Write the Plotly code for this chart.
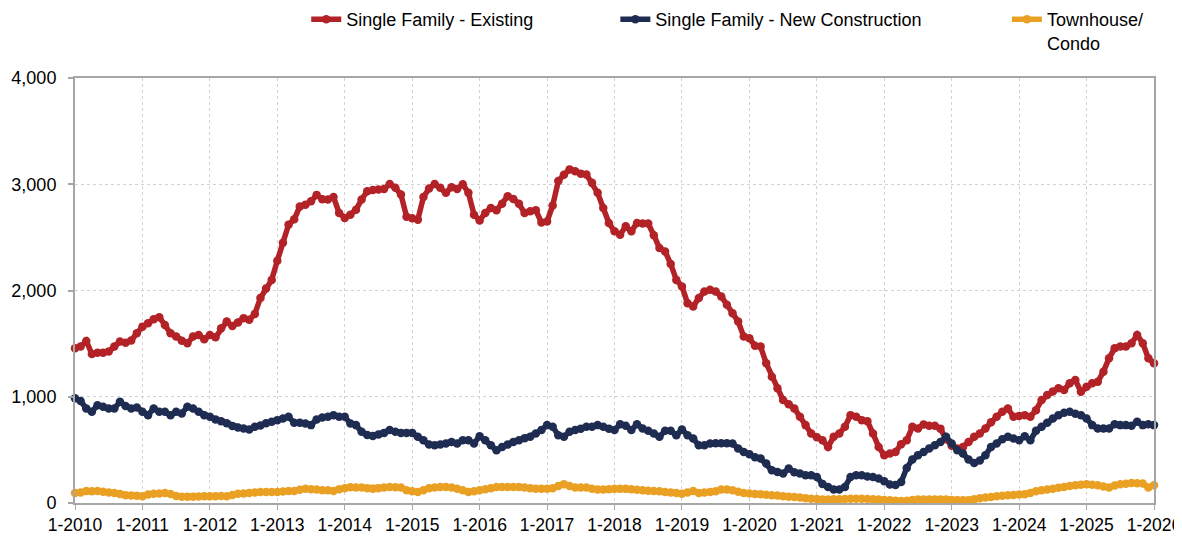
import plotly.graph_objects as go

# Monthly values, Jan 2010 .. Jan 2026
single_family_existing = [
    1457, 1472, 1525, 1403, 1415, 1415, 1425, 1472, 1519, 1509, 1530, 1598,
    1660, 1692, 1730, 1749, 1676, 1598, 1566, 1528, 1504, 1566, 1582, 1541,
    1582, 1560, 1645, 1708, 1667, 1700, 1740, 1724, 1780, 1930, 2020, 2100,
    2280, 2450, 2620, 2670, 2790, 2808, 2840, 2900, 2860, 2856, 2880, 2730,
    2683, 2714, 2760, 2856, 2934, 2945, 2950, 2956, 3003, 2966, 2903, 2695,
    2680, 2667, 2880, 2960, 3003, 2966, 2919, 2972, 2956, 3000, 2919, 2714,
    2660, 2730, 2777, 2755, 2816, 2887, 2862, 2816, 2730, 2745, 2755, 2641,
    2650, 2800, 3030, 3090, 3140, 3123, 3100, 3091, 3013, 2919, 2777, 2636,
    2557, 2525, 2604, 2557, 2636, 2630, 2630, 2520, 2400, 2368, 2250, 2100,
    2038, 1881, 1849, 1930, 1990, 2006, 1990, 1944, 1865, 1787, 1708, 1566,
    1550, 1480, 1472, 1315, 1189, 1079, 969, 930, 890, 811, 733, 654,
    620, 591, 528, 623, 654, 717, 827, 811, 780, 770, 654, 528,
    450, 466, 481, 553, 591, 717, 701, 740, 726, 726, 700, 600,
    540, 513, 528, 575, 623, 654, 701, 760, 811, 858, 890, 811,
    820, 827, 811, 874, 969, 1016, 1050, 1079, 1063, 1126, 1157, 1047,
    1094, 1126, 1141, 1236, 1362, 1457, 1472, 1472, 1504, 1582, 1504, 1362,
    1315,
]

single_family_new = [
    985, 960, 890, 858, 921, 906, 890, 890, 953, 912, 890, 899,
    858, 827, 890, 858, 858, 827, 858, 843, 906, 890, 858, 827,
    811, 787, 770, 750, 725, 710, 701, 692, 717, 730, 750, 764,
    780, 796, 811, 755, 755, 748, 733, 787, 805, 811, 827, 811,
    811, 749, 733, 670, 640, 630, 645, 660, 686, 670, 660, 660,
    660, 623, 591, 550, 544, 550, 560, 575, 560, 591, 591, 560,
    629, 591, 544, 497, 528, 550, 575, 591, 610, 623, 654, 686,
    733, 717, 638, 623, 670, 686, 700, 717, 717, 733, 717, 700,
    686, 742, 726, 686, 742, 701, 680, 654, 623, 680, 680, 638,
    692, 638, 607, 544, 544, 560, 562, 562, 562, 560, 513, 481,
    460, 430, 419, 372, 308, 292, 277, 324, 290, 277, 261, 261,
    245, 180, 151, 126, 126, 151, 245, 261, 261, 250, 245, 230,
    205, 175, 170, 198, 330, 410, 450, 480, 513, 544, 575, 623,
    560, 497, 466, 409, 377, 400, 450, 528, 560, 600, 623, 607,
    591, 629, 591, 680, 717, 755, 796, 827, 849, 858, 840, 827,
    796, 733, 701, 701, 701, 742, 733, 733, 726, 764, 733, 742,
    733,
]

townhouse_condo = [
    94, 100, 113, 110, 113, 105, 100, 94, 85, 73, 70, 68,
    63, 80, 88, 90, 94, 85, 65, 60, 60, 60, 62, 63,
    63, 63, 65, 63, 75, 88, 90, 94, 98, 104, 104, 104,
    104, 108, 113, 113, 125, 135, 130, 126, 120, 120, 113, 130,
    140, 148, 145, 145, 140, 135, 140, 145, 151, 148, 145, 120,
    110, 104, 120, 140, 145, 151, 151, 145, 135, 120, 104, 110,
    120, 130, 140, 151, 151, 151, 151, 151, 145, 140, 135, 135,
    135, 140, 160, 176, 160, 145, 145, 145, 135, 126, 126, 130,
    135, 135, 135, 130, 125, 120, 115, 113, 110, 104, 100, 95,
    88, 100, 113, 94, 100, 104, 110, 126, 126, 120, 105, 94,
    90, 85, 82, 78, 73, 70, 63, 60, 57, 52, 45, 41,
    38, 32, 34, 36, 36, 38, 41, 41, 41, 38, 35, 32,
    28, 25, 22, 19, 22, 28, 32, 32, 32, 32, 32, 32,
    28, 25, 25, 25, 35, 45, 51, 57, 63, 68, 73, 76,
    80, 82, 95, 110, 120, 128, 135, 143, 151, 160, 167, 172,
    176, 172, 167, 155, 145, 165, 176, 182, 189, 186, 183, 145,
    167,
]

tick_labels = ["1-2010", "1-2011", "1-2012", "1-2013", "1-2014", "1-2015",
               "1-2016", "1-2017", "1-2018", "1-2019", "1-2020", "1-2021",
               "1-2022", "1-2023", "1-2024", "1-2025", "1-2026"]
series_names = ["Single Family - Existing", "Single Family - New Construction",
                "Townhouse/<br>Condo"]
series_colors = ["#B22226", "#1F2C52", "#E9A023"]

months = list(range(len(single_family_existing)))
tick_positions = [12 * k for k in range(len(tick_labels))]

FONT = "Liberation Sans, Arial, sans-serif"
fig = go.Figure()
for name, vals, color, lg in zip(series_names,
                                 [single_family_existing, single_family_new, townhouse_condo],
                                 series_colors, ["legend", "legend2", "legend3"]):
    fig.add_trace(go.Scatter(
        x=months, y=vals, name=name, mode="lines+markers",
        line=dict(color=color, width=5.5),
        marker=dict(color=color, size=8.5, symbol="circle"),
        cliponaxis=False, legend=lg,
    ))

legend_common = dict(orientation="h", yanchor="top", y=1.181, xanchor="left",
                     font=dict(family=FONT, size=18, color="#000000"),
                     bgcolor="rgba(0,0,0,0)", valign="top")

# The page body adds an 8px offset, so the figure is sized 8px smaller.
fig.update_layout(
    width=1174, height=530,
    margin=dict(l=67, r=28, t=70, b=35, autoexpand=False),
    paper_bgcolor="white", plot_bgcolor="white",
    font=dict(family=FONT, size=18, color="#000000"),
    showlegend=True,
    legend=dict(x=0.2143, **legend_common),
    legend2=dict(x=0.5008, **legend_common),
    legend3=dict(x=0.8637, **legend_common),
    xaxis=dict(
        range=[0, len(months) - 1], tickmode="array",
        tickvals=tick_positions, ticktext=tick_labels,
        showgrid=True, gridcolor="#D2D2D2", griddash="dot", gridwidth=1,
        showline=True, linecolor="#A6A6A6", linewidth=2, mirror=True,
        ticks="outside", ticklen=5, tickcolor="#A6A6A6", tickwidth=1,
        tickfont=dict(family=FONT, size=17.5, color="#000000"),
        ticklabeloverflow="allow",
        zeroline=False,
    ),
    yaxis=dict(
        range=[0, 4000], tickmode="linear", tick0=0, dtick=1000,
        tickformat=",d",
        showgrid=True, gridcolor="#D2D2D2", griddash="dot", gridwidth=1,
        showline=True, linecolor="#A6A6A6", linewidth=2, mirror=True,
        ticks="outside", ticklen=5, tickcolor="#A6A6A6", tickwidth=2,
        ticklabelstandoff=8,
        tickfont=dict(family=FONT, size=18, color="#000000"),
        zeroline=False,
    ),
)

fig.write_html("out.html", post_script="document.body.style.overflow='hidden';")
